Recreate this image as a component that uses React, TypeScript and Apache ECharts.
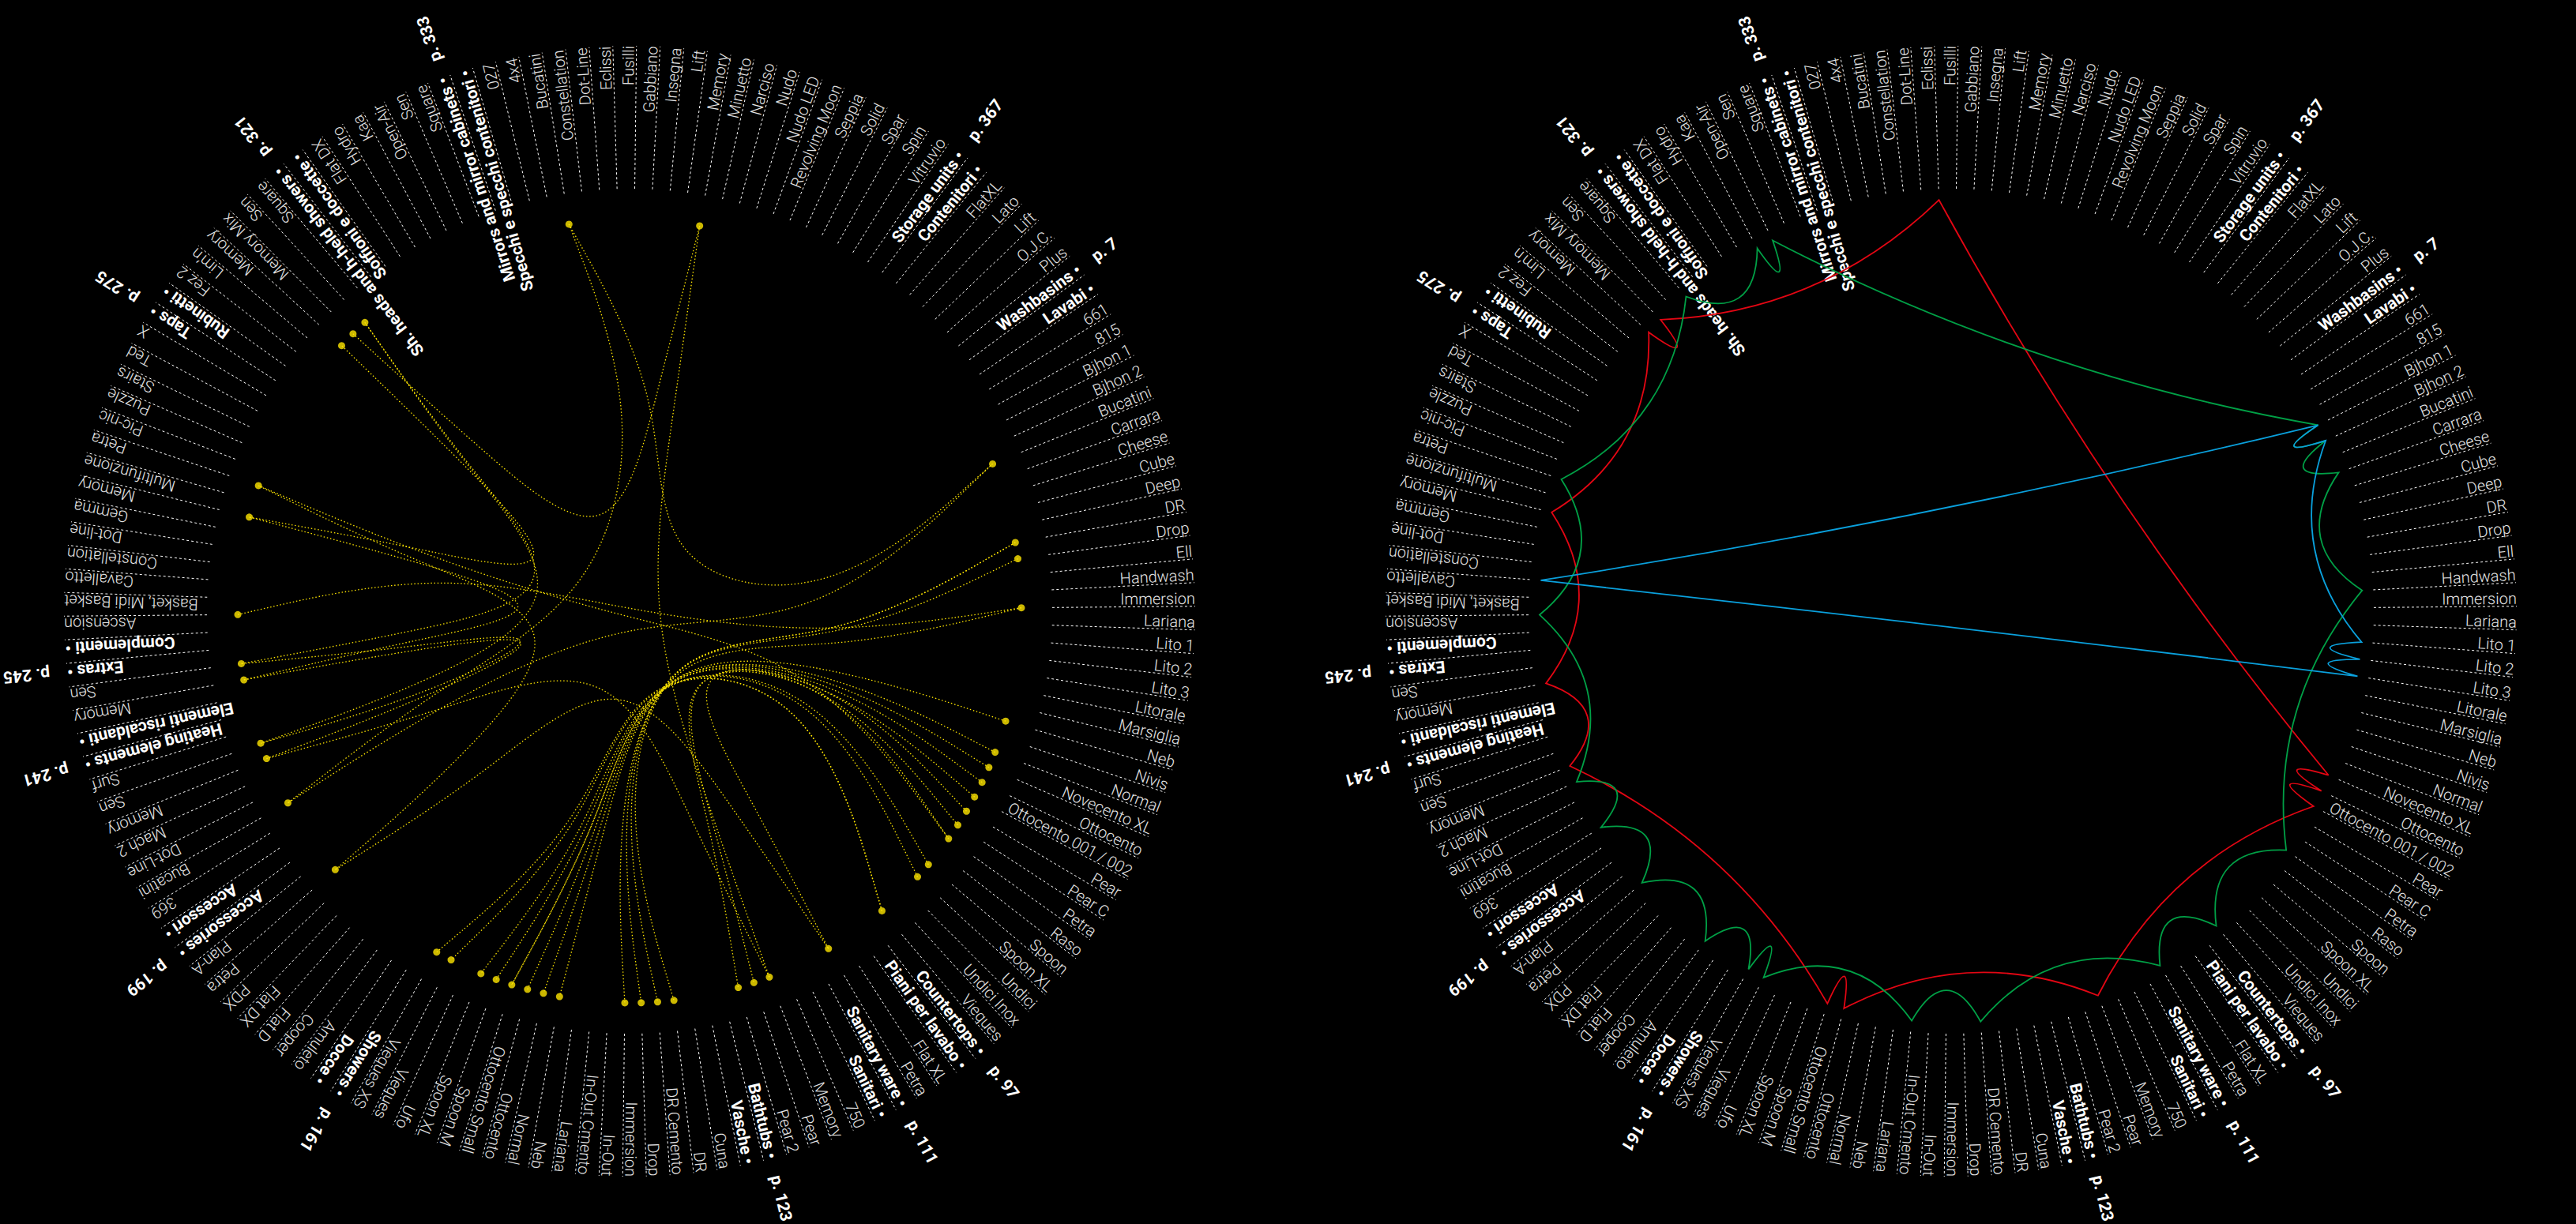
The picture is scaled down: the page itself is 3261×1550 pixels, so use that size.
import React, { useEffect, useRef } from "react";
import * as echarts from "echarts";

// ---------------- data ----------------
const sectionKeys = ["WB", "CT", "SW", "BT", "SH", "AC", "HE", "EX", "TP", "SHH", "MR", "ST"];
const sectionTitlesEn = ["Washbasins", "Countertops", "Sanitary ware", "Bathtubs", "Showers", "Accessories", "Heating elements", "Extras", "Taps", "Sh. heads and h-held showers", "Mirrors and mirror cabinets", "Storage units"];
const sectionTitlesIt = ["Lavabi", "Piani per lavabo", "Sanitari", "Vasche", "Docce", "Accessori", "Elementi riscaldanti", "Complementi", "Rubinetti", "Soffioni e doccette", "Specchi e specchi contenitori", "Contenitori"];
const sectionPages = ["p. 7", "p. 97", "p. 111", "p. 123", "p. 161", "p. 199", "p. 241", "p. 245", "p. 275", "p. 321", "p. 333", "p. 367"];

const washbasins = ["661", "815", "Bjhon 1", "Bjhon 2", "Bucatini", "Carrara", "Cheese", "Cube", "Deep", "DR", "Drop", "Ell", "Handwash", "Immersion", "Lariana", "Lito 1", "Lito 2", "Lito 3", "Litorale", "Marsiglia", "Neb", "Nivis", "Normal", "Novecento XL", "Ottocento", "Ottocento 001 / 002", "Pear", "Pear C", "Petra", "Raso", "Spoon", "Spoon XL", "Undici", "Undici Inox", "Vieques"];
const countertops = ["Flat XL", "Petra"];
const sanitaryWare = ["750", "Memory", "Pear", "Pear 2"];
const bathtubs = ["Cuna", "DR", "DR Cemento", "Drop", "Immersion", "In-Out", "In-Out Cmento", "Lariana", "Neb", "Normal", "Ottocento", "Ottocento Small", "Spoon M", "Spoon XL", "Ufo", "Vieques", "Vieques XS"];
const showers = ["Amuleto", "Cooper", "Flat D", "Flat DX", "PDX", "Petra", "Plan-A"];
const accessories = ["369", "Bucatini", "Dot-Line", "Mach 2", "Memory", "Sen", "Surf"];
const heatingElements = ["Memory", "Sen"];
const extras = ["Ascension", "Basket, Midi Basket", "Cavalletto", "Constellation", "Dot-line", "Gemma", "Memory", "Multifunzione", "Petra", "Pic-nic", "Puzzle", "Stairs", "Ted", "X"];
const taps = ["Fez 2", "Lim\u2019n", "Memory", "Memory Mix", "Sen", "Square"];
const showerHeads = ["Flat DX", "Hydro", "Kaa", "Open-Air", "Sen", "Square"];
const mirrors = ["027", "4x4", "Bucatini", "Constellation", "Dot-Line", "Eclissi", "Fusilli", "Gabbiano", "Insegna", "Lift", "Memory", "Minuetto", "Narciso", "Nudo", "Nudo LED", "Revolving Moon", "Seppia", "Solid", "Spar", "Spin", "Vitruvio"];
const storageUnits = ["FlatXL", "Lato", "Lift", "O.J.C.", "Plus"];

const sectionItems = [washbasins, countertops, sanitaryWare, bathtubs, showers, accessories, heatingElements, extras, taps, showerHeads, mirrors, storageUnits];

// left chart: links between the same product family in different sections
const sharedLinks: [string, string][] = [
  ["WB|Bucatini", "AC|Bucatini"],
  ["AC|Bucatini", "MR|Bucatini"],
  ["MR|Bucatini", "WB|Bucatini"],
  ["WB|DR", "BT|DR"],
  ["WB|DR", "BT|DR Cemento"],
  ["WB|Drop", "BT|Drop"],
  ["WB|Immersion", "BT|Immersion"],
  ["WB|Immersion", "EX|Ascension"],
  ["WB|Neb", "BT|Neb"],
  ["WB|Normal", "BT|Normal"],
  ["WB|Novecento XL", "BT|Ottocento Small"],
  ["WB|Ottocento", "BT|Ottocento"],
  ["WB|Ottocento 001 / 002", "BT|Ottocento Small"],
  ["WB|Pear", "SW|Pear"],
  ["WB|Pear C", "SW|Pear 2"],
  ["WB|Petra", "CT|Petra"],
  ["CT|Petra", "SH|Petra"],
  ["SH|Petra", "EX|Petra"],
  ["EX|Petra", "WB|Petra"],
  ["WB|Spoon", "BT|Spoon M"],
  ["WB|Spoon XL", "BT|Spoon XL"],
  ["WB|Vieques", "BT|Vieques"],
  ["WB|Vieques", "BT|Vieques XS"],
  ["SW|Memory", "AC|Memory"],
  ["AC|Memory", "HE|Memory"],
  ["HE|Memory", "EX|Memory"],
  ["EX|Memory", "TP|Memory"],
  ["TP|Memory Mix", "MR|Memory"],
  ["MR|Memory", "SW|Memory"],
  ["AC|Sen", "HE|Sen"],
  ["HE|Sen", "TP|Sen"],
  ["TP|Sen", "AC|Sen"],
];

// right chart: three closed routes around the ring
const redRoute = ["WB|Novecento XL", "WB|Ottocento", "WB|Ottocento 001 / 002", "SW|Memory", "BT|Ottocento", "BT|Ottocento Small", "AC|Memory", "HE|Memory", "EX|Memory", "TP|Memory", "TP|Memory Mix", "MR|Eclissi"];
const greenRoute = ["WB|Bjhon 1", "WB|Bjhon 2", "WB|Carrara", "WB|Handwash", "WB|Petra", "WB|Vieques", "CT|Petra", "BT|DR Cemento", "BT|In-Out Cmento", "BT|Vieques", "BT|Vieques XS", "SH|Amuleto", "SH|Petra", "AC|369", "AC|Mach 2", "EX|Ascension", "EX|Petra", "TP|Square", "SHH|Kaa", "SHH|Open-Air"];
const blueRoute = ["WB|Bjhon 1", "WB|Bjhon 2", "WB|Lito 1", "WB|Lito 2", "WB|Lito 3", "EX|Cavalletto"];
const routes = [redRoute, greenRoute, blueRoute];
const routeColors = ["#e30613", "#00a046", "#0aa0dc"];

// ---------------- layout constants ----------------
const W = 3261;
const H = 1550;
const CENTERS = [[797, 774], [2470, 774]];
const R_MAX = 716;
const R_IN = 535;
const R_OUT = 716;
const R_PAGE = 738;
const R_LINK = 496;
const R_RING = 521;
const START_ANGLE = 36.5;

type Spoke = { label: string; kind: number; page?: string; section: number };
const spokes: Spoke[] = [];
const sectionStart: number[] = [];
sectionItems.forEach((items, s) => {
  sectionStart.push(spokes.length);
  spokes.push({ label: sectionTitlesEn[s] + " \u2022", kind: 1, page: sectionPages[s], section: s });
  spokes.push({ label: sectionTitlesIt[s] + " \u2022", kind: 2, section: s });
  items.forEach((it) => spokes.push({ label: it, kind: 0, section: s }));
});
const N = spokes.length;

function spokeOf(key: string): number {
  const [k, name] = key.split("|");
  const s = sectionKeys.indexOf(k);
  return sectionStart[s] + 2 + sectionItems[s].indexOf(name);
}
function sectionMid(s: number): number {
  return sectionStart[s] + 2 + (sectionItems[s].length - 1) / 2;
}

const linkPairs = sharedLinks.map(([a, b]) => [spokeOf(a), spokeOf(b)]);
const dotSpokes = Array.from(new Set(linkPairs.flat())).sort((a, b) => a - b);
const routeSpokes = routes.map((r) => r.map(spokeOf).sort((a, b) => a - b));

function bundlePath(pts: number[][], beta: number): string {
  const n = pts.length - 1;
  const x0 = pts[0][0], y0 = pts[0][1];
  const dx = pts[n][0] - x0, dy = pts[n][1] - y0;
  const s = pts.map((p, i) => [
    beta * p[0] + (1 - beta) * (x0 + (dx * i) / n),
    beta * p[1] + (1 - beta) * (y0 + (dy * i) / n),
  ]);
  let ax = s[0][0], ay = s[0][1], bx = s[1][0], by = s[1][1];
  let d = `M${ax},${ay}L${(5 * ax + bx) / 6},${(5 * ay + by) / 6}`;
  const seg = (x: number, y: number) => {
    d += `C${(2 * ax + bx) / 3},${(2 * ay + by) / 3},${(ax + 2 * bx) / 3},${(ay + 2 * by) / 3},${(ax + 4 * bx + x) / 6},${(ay + 4 * by + y) / 6}`;
  };
  for (let i = 2; i < s.length; i++) {
    seg(s[i][0], s[i][1]);
    ax = bx; ay = by; bx = s[i][0]; by = s[i][1];
  }
  seg(bx, by);
  d += `L${bx},${by}`;
  return d;
}

function spokeRenderItem(params: any, api: any) {
  const i = params.dataIndex;
  const sp = spokes[i];
  const c = api.coord([0, i]);
  const pIn = api.coord([R_IN, i]);
  const pOut = api.coord([R_OUT, i]);
  const ang = Math.atan2(pOut[1] - c[1], pOut[0] - c[0]);
  const bold = sp.kind !== 0;
  const children: any[] = [
    {
      type: "line",
      shape: { x1: pIn[0], y1: pIn[1], x2: pOut[0], y2: pOut[1] },
      style: { stroke: "#ffffff", lineWidth: 1, lineDash: [3, 3] },
    },
    {
      type: "text",
      x: pOut[0],
      y: pOut[1],
      rotation: -ang,
      style: {
        text: sp.label,
        fill: bold ? "#ffffff" : "#e4e4e4",
        fontFamily: "Roboto",
        fontWeight: bold ? 700 : 300,
        fontSize: bold ? 21 : 20,
        align: "right",
        verticalAlign: "bottom",
      },
    },
  ];
  if (sp.page) {
    const pp = api.coord([R_PAGE, i]);
    children.push({
      type: "text",
      x: pp[0],
      y: pp[1],
      rotation: -ang,
      style: {
        text: sp.page,
        fill: "#ffffff",
        fontFamily: "Roboto",
        fontWeight: 700,
        fontSize: 21,
        align: "left",
        verticalAlign: "bottom",
      },
    });
  }
  return { type: "group", children };
}

function linkRenderItem(params: any, api: any) {
  const [a, b] = linkPairs[params.dataIndex];
  const sa = spokes[a].section, sb = spokes[b].section;
  const pts = [
    api.coord([R_LINK, a]),
    api.coord([R_LINK / 2, sectionMid(sa)]),
    api.coord([0, 0]),
    api.coord([R_LINK / 2, sectionMid(sb)]),
    api.coord([R_LINK, b]),
  ];
  return {
    type: "path",
    shape: { pathData: bundlePath(pts, 0.85) },
    style: { fill: "none", stroke: "#ffe600", lineWidth: 1.3, lineDash: [1.5, 2.7] },
  };
}

function routeRenderItem(params: any, api: any) {
  const idx = routeSpokes[params.dataIndex];
  const c = api.coord([0, 0]);
  const pts = idx.map((i) => api.coord([R_RING, i]));
  const k = 0.85;
  let d = `M${pts[0][0]},${pts[0][1]}`;
  for (let j = 0; j < pts.length; j++) {
    const p = pts[j];
    const q = pts[(j + 1) % pts.length];
    const mx = (p[0] + q[0]) / 2, my = (p[1] + q[1]) / 2;
    const cx = c[0] + k * (mx - c[0]);
    const cy = c[1] + k * (my - c[1]);
    d += `Q${cx},${cy},${q[0]},${q[1]}`;
  }
  return {
    type: "path",
    shape: { pathData: d },
    style: { fill: "none", stroke: routeColors[params.dataIndex], lineWidth: 1.8 },
  };
}

const hiddenAxis = {
  axisLine: { show: false },
  axisTick: { show: false },
  axisLabel: { show: false },
  splitLine: { show: false },
  splitArea: { show: false },
};

function buildOption(): any {
  const spokeData = spokes.map((_, i) => [0, i]);
  return {
    animation: false,
    backgroundColor: "#000000",
    polar: CENTERS.map((c) => ({ center: c, radius: R_MAX })),
    angleAxis: [0, 1].map((p) => ({
      polarIndex: p,
      type: "value",
      min: 0,
      max: N,
      startAngle: START_ANGLE,
      clockwise: true,
      ...hiddenAxis,
    })),
    radiusAxis: [0, 1].map((p) => ({
      polarIndex: p,
      type: "value",
      min: 0,
      max: R_MAX,
      ...hiddenAxis,
    })),
    series: [
      { type: "custom", coordinateSystem: "polar", polarIndex: 0, silent: true, data: spokeData, renderItem: spokeRenderItem },
      { type: "custom", coordinateSystem: "polar", polarIndex: 1, silent: true, data: spokeData, renderItem: spokeRenderItem },
      { type: "custom", coordinateSystem: "polar", polarIndex: 0, silent: true, data: linkPairs.map((_, k) => [0, k]), renderItem: linkRenderItem },
      {
        type: "scatter",
        coordinateSystem: "polar",
        polarIndex: 0,
        silent: true,
        symbol: "circle",
        symbolSize: 9,
        itemStyle: { color: "#ffe600" },
        data: dotSpokes.map((i) => [R_LINK, i]),
      },
      { type: "custom", coordinateSystem: "polar", polarIndex: 1, silent: true, data: routes.map((_, k) => [0, k]), renderItem: routeRenderItem },
    ],
  };
}

export default function App() {
  const ref = useRef<HTMLDivElement>(null);
  useEffect(() => {
    document.body.style.margin = "0";
    document.body.style.background = "#000";
    const chart = echarts.init(ref.current as HTMLDivElement, undefined, { renderer: "svg", width: W, height: H });
    chart.setOption(buildOption());
    return () => chart.dispose();
  }, []);
  return <div ref={ref} style={{ width: W, height: H, background: "#000" }} />;
}
